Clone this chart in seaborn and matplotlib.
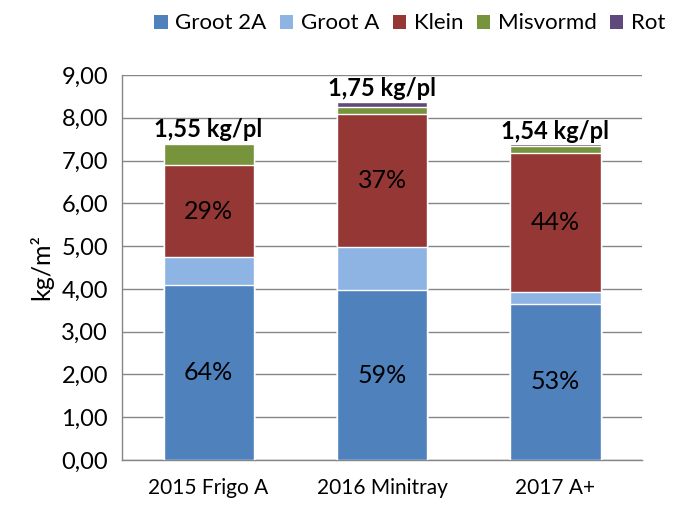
import numpy as np
import pandas as pd
import matplotlib
matplotlib.use("Agg")
import matplotlib.pyplot as plt
from matplotlib.patches import Patch
from matplotlib.ticker import FuncFormatter, FixedLocator
import seaborn as sns

# Values (kg/m2)
categories = ["2015 Frigo A", "2016 Minitray", "2017 A+"]
groot_2a = [4.09, 3.97, 3.65]
groot_a = [0.66, 1.01, 0.28]
klein = [2.14, 3.11, 3.25]
misvormd = [0.50, 0.16, 0.16]
rot = [0.02, 0.12, 0.04]

groot_pct = ["64%", "59%", "53%"]
klein_pct = ["29%", "37%", "44%"]
total_labels = ["1,55 kg/pl", "1,75 kg/pl", "1,54 kg/pl"]

series_names = ["Groot 2A", "Groot A", "Klein", "Misvormd", "Rot"]
colors = ["#4F81BD", "#8EB4E3", "#953735", "#77933C", "#604A7B"]

sns.set_style("white")
plt.rcParams["font.family"] = ["Lato", "DejaVu Sans"]

df = pd.DataFrame({
    "categorie": categories,
    "Groot 2A": groot_2a,
    "Groot A": groot_a,
    "Klein": klein,
    "Misvormd": misvormd,
    "Rot": rot,
})
cum = df[series_names].cumsum(axis=1)

fig = plt.figure(figsize=(6.81, 5.20), dpi=100)
ax = fig.add_axes([0.179, 0.1154, 0.764, 0.7404])

# stacked bars: draw cumulative totals from the top series down
for name, col in reversed(list(zip(series_names, colors))):
    sns.barplot(x=df["categorie"], y=cum[name], color=col, width=0.52,
                saturation=1, ax=ax, zorder=3)

ax.set_ylim(0, 9)
ax.set_xlim(-0.5, 2.5)
ax.yaxis.set_major_locator(FixedLocator(np.arange(0, 9.01, 1)))
ax.yaxis.set_major_formatter(FuncFormatter(lambda v, p: f"{v:.2f}".replace(".", ",")))
ax.grid(axis="y", color="#868686", linewidth=1, zorder=0)
ax.set_axisbelow(True)

for side in ["top", "right"]:
    ax.spines[side].set_visible(False)
for side in ["left", "bottom"]:
    ax.spines[side].set_color("#868686")
    ax.spines[side].set_linewidth(1)

ax.tick_params(axis="y", which="major", length=6, color="#868686", labelsize=17,
               labelcolor="black", pad=4)
ax.tick_params(axis="x", which="major", length=0, labelsize=15, labelcolor="black", pad=13)
ax.set_xticks([-0.5, 0.5, 1.5, 2.5], minor=True)
ax.tick_params(axis="x", which="minor", length=7, color="#868686", direction="out")
ax.set_xlabel("")
ax.set_ylabel("kg/m²", fontsize=18, color="black", labelpad=6)

# data labels
for i in range(len(categories)):
    ax.text(i, groot_2a[i] / 2, groot_pct[i], ha="center", va="center", fontsize=18,
            color="black", zorder=5)
    kmid = cum["Groot A"][i] + klein[i] / 2
    ax.text(i, kmid, klein_pct[i], ha="center", va="center", fontsize=18,
            color="black", zorder=5)
    ax.text(i, cum["Rot"][i] + 0.13, total_labels[i], ha="center", va="baseline",
            fontsize=17, fontweight="bold", color="black", zorder=5)

handles = [Patch(facecolor=c, edgecolor="none", label=n) for n, c in zip(series_names, colors)]
fig.legend(handles=handles, loc="center right", bbox_to_anchor=(1.0, 0.955), ncol=5,
           frameon=False, fontsize=16, handlelength=0.6, handleheight=0.6,
           handletextpad=0.35, columnspacing=0.6, borderpad=0.2, labelcolor="black")

fig.savefig("out.png", dpi=100)
